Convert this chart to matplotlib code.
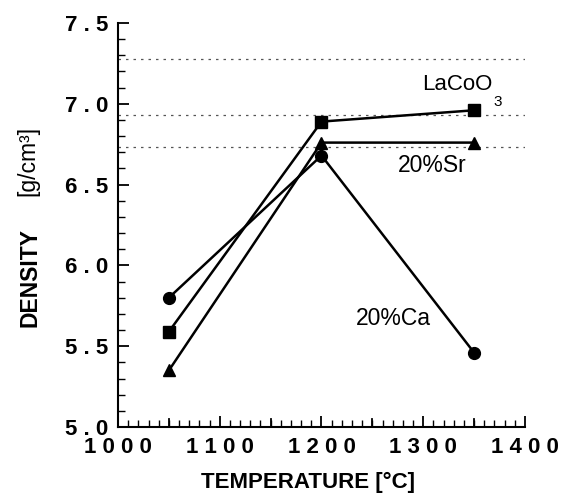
import matplotlib
matplotlib.use("Agg")
import matplotlib.pyplot as plt
from matplotlib.ticker import MultipleLocator, FuncFormatter

plt.rcParams['font.family'] = ['Liberation Sans', 'DejaVu Sans']
plt.rcParams['font.weight'] = 'bold'

# data
temps = [1050, 1200, 1350]
lacoo3 = [5.59, 6.89, 6.96]
sr20 = [5.35, 6.76, 6.76]
ca20 = [5.80, 6.68, 5.46]
ref_levels = [7.28, 6.93, 6.73]


def spaced(v, fmt):
    return " ".join(fmt.format(v))


fig = plt.figure(figsize=(5.74, 4.93), dpi=100)
ax = fig.add_axes([0.2056, 0.1339, 0.709, 0.8194])

# dotted reference levels
for lev in ref_levels:
    ax.plot([1000, 1400], [lev, lev], color='#555555', lw=0.9,
            linestyle=(0, (2, 4)), zorder=1)

ax.plot(temps, lacoo3, color='black', lw=1.8, marker='s', ms=8, zorder=3)
ax.plot(temps, sr20, color='black', lw=1.8, marker='^', ms=8.5, zorder=3)
ax.plot(temps, ca20, color='black', lw=1.8, marker='o', ms=8.5, zorder=3)

ax.text(1333, 7.12, "LaCoO", fontsize=16, fontweight='normal',
        ha='center', va='center')
ax.text(1373, 7.01, "3", fontsize=11, fontweight='normal',
        ha='center', va='center')
ax.text(1309, 6.62, "20%Sr", fontsize=16.5, fontweight='normal',
        ha='center', va='center')
ax.text(1271, 5.67, "20%Ca", fontsize=16.5, fontweight='normal',
        ha='center', va='center')

ax.set_xlim(1000, 1400)
ax.set_ylim(5.0, 7.5)

ax.spines['top'].set_visible(False)
ax.spines['right'].set_visible(False)
ax.spines['left'].set_linewidth(1.5)
ax.spines['bottom'].set_linewidth(1.5)

# major ticks: labelled every 100 / 0.5, plus unlabelled ones at the 50s
xmajor = [1000, 1100, 1200, 1300, 1400]
ymajor = [5.0, 5.5, 6.0, 6.5, 7.0, 7.5]
ax.set_xticks(xmajor)
ax.set_xticklabels([spaced(v, "{:.0f}") for v in xmajor],
                   fontfamily='Liberation Sans', fontweight='bold')
ax.set_yticks(ymajor)
ax.set_yticklabels([spaced(v, "{:.1f}") for v in ymajor],
                   fontfamily='Liberation Sans', fontweight='bold')
ax.xaxis.set_minor_locator(MultipleLocator(10))
ax.yaxis.set_minor_locator(MultipleLocator(0.1))
for xm in [1050, 1150, 1250, 1350]:
    ax.plot([xm, xm], [5.0, 5.0 + 8 / 161.6], color='black', lw=1.3,
            clip_on=False, zorder=2)

ax.tick_params(which='major', direction='in', length=8, width=1.3,
               labelsize=16, pad=7)
ax.tick_params(which='minor', direction='in', length=5, width=1.0)

fig.text(0.537, 0.022, "TEMPERATURE [°C]", fontsize=16, fontweight='bold',
         ha='center', va='center')

# y label: bold word plus regular unit
fig.text(0.052, 0.437, "DENSITY", rotation=90, fontsize=16.5,
         fontweight='bold', ha='center', va='center')
fig.text(0.049, 0.673, "[g/cm³]", rotation=90, fontsize=16.5,
         fontweight='normal', ha='center', va='center')

fig.savefig("out.png", dpi=100)
